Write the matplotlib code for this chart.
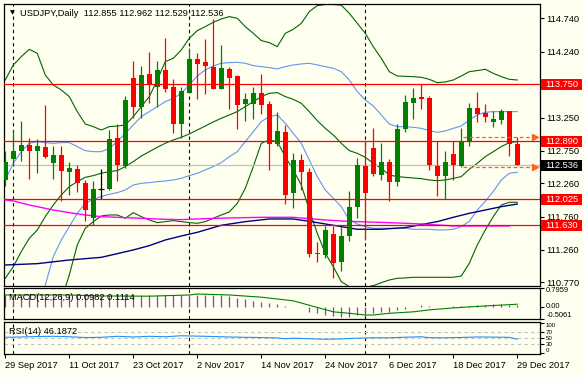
import matplotlib.pyplot as plt
import numpy as np
import pandas as pd

plt.rcParams['font.family'] = ['Liberation Sans', 'DejaVu Sans']
FS = 6.7
BG = '#FFFFF0'

# trading days shown on the chart (no bar for 25 Dec)
dates = [d for d in pd.bdate_range('2017-09-29', '2017-12-29') if d != pd.Timestamp('2017-12-25')]

# OHLC
open_ = [112.315, 112.63, 112.74, 112.84, 112.74, 112.81, 112.565, 112.68, 112.425, 112.48,
         112.27, 111.74, 112.175, 112.18, 112.935, 112.515, 113.845, 113.415, 113.905, 113.715,
         113.965, 113.705, 113.155, 113.625, 114.13, 114.085, 114.01, 113.68, 113.975, 113.875,
         113.45, 113.455, 113.615, 113.455, 112.855, 113.03, 112.115, 112.615, 112.435, 111.215,
         111.19, 111.505, 111.08, 111.465, 111.90, 112.525, 112.795, 112.38, 112.58, 112.275,
         113.075, 113.475, 113.56, 113.54, 112.525, 112.375, 112.705, 112.525, 112.875, 113.40,
         113.315, 113.19, 113.215, 113.35, 112.855]
high = [112.74, 113.065, 113.205, 112.95, 112.925, 113.44, 112.815, 112.815, 112.58, 112.53,
        112.315, 112.30, 112.475, 113.065, 113.155, 113.575, 114.10, 114.025, 114.23, 114.10,
        114.44, 113.825, 113.705, 114.29, 114.225, 114.425, 114.725, 114.34, 114.015, 113.89,
        113.615, 113.705, 113.905, 113.50, 113.33, 113.135, 112.715, 112.705, 112.49, 111.38,
        111.625, 111.625, 111.615, 112.15, 112.64, 112.89, 113.10, 112.865, 112.63, 113.155,
        113.59, 113.695, 113.75, 113.575, 112.89, 112.75, 112.89, 113.09, 113.465, 113.64,
        113.455, 113.35, 113.375, 113.35, 112.962]
low = [112.215, 112.515, 112.59, 112.33, 112.415, 112.64, 112.33, 112.0, 112.09, 112.125,
       111.69, 111.64, 112.03, 112.165, 112.29, 112.49, 113.24, 113.24, 113.475, 113.415,
       113.64, 113.025, 112.94, 113.615, 113.53, 113.605, 113.675, 113.675, 113.38, 113.08,
       113.205, 113.23, 113.305, 112.465, 112.815, 111.95, 111.89, 112.165, 111.155, 111.075,
       111.14, 110.84, 110.94, 111.39, 111.74, 111.415, 112.365, 112.315, 112.0, 112.215,
       113.04, 113.23, 113.375, 112.455, 112.065, 112.025, 112.305, 112.50, 112.825, 113.19,
       113.19, 113.115, 113.15, 112.665, 112.529]
close = [112.575, 112.74, 112.84, 112.74, 112.815, 112.65, 112.69, 112.44, 112.49, 112.265,
         111.865, 112.18, 112.175, 112.925, 112.53, 113.515, 113.415, 113.89, 113.74, 113.965,
         113.675, 113.155, 113.655, 114.13, 114.06, 114.03, 113.68, 113.995, 113.85, 113.44,
         113.53, 113.615, 113.44, 112.855, 113.05, 112.08, 112.615, 112.425, 111.205, 111.195,
         111.565, 111.065, 111.465, 111.905, 112.54, 112.115, 112.40, 112.58, 112.275, 113.075,
         113.48, 113.54, 113.53, 112.53, 112.375, 112.58, 112.53, 112.89, 113.40, 113.305,
         113.255, 113.23, 113.35, 112.855, 112.536]

# Bollinger bands 20, +-2 (green) and +-1 (blue); nan = outside the chart
bb2_up = [113.815, 114.041, 114.166, 114.276, 114.216, 113.890, 113.740, 113.665, 113.565, 113.339,
          113.153, 113.113, 113.063, 113.113, 113.123, 113.138, 113.264, 113.414, 113.565, 113.815,
          114.091, 114.141, 114.266, 114.442, 114.557, 114.617, 114.682, 114.732, 114.768, 114.743,
          114.617, 114.517, 114.407, 114.377, 114.316, 114.517, 114.577, 114.667, 114.843, 114.933,
          114.95, 114.95, 114.94, 114.818, 114.667, 114.517, 114.316, 114.141, 113.940, 113.875,
          113.870, 113.865, 113.855, 113.825, 113.775, 113.785, 113.815, 113.875, 113.940, 113.956,
          113.976, 113.915, 113.865, 113.825, 113.815]
bb_mid = [110.833, 111.008, 111.234, 111.434, 111.559, 111.760, 111.935, 112.086, 112.211, 112.286,
          112.351, 112.377, 112.412, 112.437, 112.452, 112.512, 112.587, 112.672, 112.737, 112.803,
          112.863, 112.913, 112.953, 113.003, 113.063, 113.123, 113.184, 113.239, 113.289, 113.339,
          113.414, 113.489, 113.565, 113.615, 113.625, 113.565, 113.524, 113.464, 113.339, 113.204,
          113.088, 112.988, 112.863, 112.753, 112.712, 112.652, 112.562, 112.487, 112.387, 112.362,
          112.351, 112.341, 112.331, 112.311, 112.301, 112.311, 112.336, 112.362, 112.472, 112.562,
          112.662, 112.737, 112.813, 112.873, 112.888]
bb2_low = [np.nan, np.nan, np.nan, np.nan, np.nan, np.nan, np.nan, 110.5, 110.883, 111.334,
           111.584, 111.685, 111.770, 111.785, 111.785, 111.735, 111.820, 111.760, 111.710, 111.670,
           111.685, 111.700, 111.685, 111.670, 111.660, 111.685, 111.735, 111.785, 111.830, 111.960,
           112.186, 112.512, 112.863, 112.913, 112.888, 112.662, 112.462, 112.236, 111.860, 111.509,
           111.209, 111.008, 110.783, 110.707, 110.682, 110.697, 110.722, 110.767, 110.807, 110.833,
           110.838, 110.848, 110.848, 110.848, 110.848, 110.848, 110.848, 110.868, 111.058, 111.334,
           111.559, 111.760, 111.935, 111.976, 111.976]
bb1_up = [112.311, 112.562, 112.737, 112.863, 112.888, 112.873, 112.863, 112.873, 112.873, 112.813,
          112.752, 112.737, 112.737, 112.788, 112.888, 113.013, 113.138, 113.264, 113.339, 113.414,
          113.489, 113.539, 113.615, 113.740, 113.875, 113.966, 114.026, 114.066, 114.076, 114.081,
          114.066, 114.031, 114.016, 114.001, 113.981, 114.016, 114.041, 114.056, 114.066, 114.041,
          114.016, 113.991, 113.940, 113.815, 113.640, 113.514, 113.424, 113.289, 113.153, 113.113,
          113.113, 113.103, 113.088, 113.053, 113.028, 113.048, 113.088, 113.123, 113.214, 113.289,
          113.329, 113.339, 113.339, 113.339, 113.339]
bb1_low = [np.nan, np.nan, np.nan, np.nan, 110.4, 110.73, 111.159, 111.409, 111.610, 111.810,
           111.961, 112.021, 112.061, 112.096, 112.121, 112.161, 112.236, 112.261, 112.271, 112.286,
           112.296, 112.311, 112.336, 112.377, 112.412, 112.462, 112.512, 112.572, 112.662, 112.737,
           112.888, 113.038, 113.189, 113.264, 113.289, 113.164, 113.013, 112.863, 112.612, 112.362,
           112.161, 112.036, 111.910, 111.710, 111.650, 111.610, 111.585, 111.585, 111.585, 111.585,
           111.585, 111.570, 111.570, 111.570, 111.560, 111.560, 111.570, 111.610, 111.690, 111.860,
           111.990, 112.140, 112.311, 112.412, 112.427]

# moving averages, read at a few bars
navy_idx = [0, 4, 8, 12, 16, 18, 20, 22, 24, 27, 30, 33, 36, 38, 41, 44, 47, 50, 54, 56, 58, 60, 62, 64]
navy_val = [111.033, 111.053, 111.108, 111.148, 111.259, 111.324, 111.409, 111.469, 111.524, 111.630,
            111.685, 111.725, 111.725, 111.690, 111.630, 111.570, 111.570, 111.595, 111.685, 111.750,
            111.810, 111.860, 111.910, 111.950]
mag_idx = [0, 1, 3, 6, 8, 10, 12, 14, 17, 20, 22, 25, 28, 32, 36, 38, 40, 42, 44, 48, 52, 54, 56, 60, 63]
mag_val = [112.011, 111.996, 111.935, 111.860, 111.820, 111.785, 111.760, 111.750, 111.735, 111.720,
           111.715, 111.730, 111.740, 111.750, 111.750, 111.730, 111.710, 111.695, 111.685, 111.670,
           111.650, 111.635, 111.620, 111.620, 111.620]

# horizontal levels
red_levels = [113.750, 112.890, 112.025, 111.630]
bid = 112.536
arrow_levels = [112.962, 112.505]

# MACD(12,26,9)
macd_hist = [0.48] * 28 + [0.45, 0.35, 0.31, 0.26, 0.21, 0.17, 0.12, 0.04, 0.01, -0.02,
             -0.19, -0.26, -0.33, -0.37, -0.43, -0.43, -0.33, -0.31, -0.26, -0.22,
             -0.19, -0.13, -0.07, -0.01, 0.07, 0.04, 0.01, 0.01, 0.02, 0.02,
             0.04, 0.07, 0.07, 0.10, 0.10, 0.09, 0.0982]
sig_idx = [0, 8, 12, 18, 23, 24, 28, 32, 36, 38, 41, 43, 45, 46, 48, 51, 53, 56, 58, 60, 64]
sig_val = [0.49, 0.49, 0.45, 0.44, 0.49, 0.53, 0.49, 0.40, 0.25, 0.07, -0.20, -0.26, -0.33, -0.33,
           -0.26, -0.20, -0.12, -0.04, 0.0, 0.04, 0.1114]

# RSI(14)
rsi_idx = [0, 2, 4, 6, 8, 10, 12, 14, 16, 18, 20, 22, 24, 26, 28, 30, 32, 34, 35, 36, 38, 40, 42,
           44, 46, 48, 50, 52, 53, 55, 57, 59, 61, 63, 64]
rsi_val = [52.9, 54.0, 55.5, 56.3, 54.8, 52.1, 52.9, 56.3, 54.0, 56.3, 54.8, 58.2, 56.9, 55.5, 54.0,
           52.9, 52.1, 50.6, 48.0, 49.9, 48.0, 46.2, 47.6, 49.9, 51.3, 51.3, 53.2, 54.7, 51.7, 51.3,
           52.4, 54.0, 53.6, 52.8, 46.19]

n = len(close)
x = np.arange(n)

W, H = 584, 377
fig = plt.figure(figsize=(W / 100, H / 100), dpi=100, facecolor=BG)


def px_axes(top, bottom):
    return fig.add_axes([4 / W, 1 - bottom / H, 536 / W, (bottom - top) / H], facecolor=BG)


ax = px_axes(4, 285.5)
ax_m = px_axes(287.5, 319.3)
ax_r = px_axes(322.3, 354)

xlim = (-0.16, 66.84)
for a in (ax, ax_m, ax_r):
    a.set_xlim(*xlim)
    a.yaxis.tick_right()
    a.tick_params(axis='y', direction='out', length=3, width=0.8, pad=1.5, labelsize=FS)
    a.tick_params(axis='x', bottom=False, labelbottom=False)
    for s in a.spines.values():
        s.set_linewidth(0.9)
    # month separators
    for i in range(1, n):
        if dates[i].month != dates[i - 1].month:
            a.axvline(i, color='black', lw=0.8, ls=(0, (3, 3)), zorder=1)

# ---- main chart
ax.set_ylim(110.7245, 114.9575)
ax.set_yticks([114.74, 114.24, 113.25, 112.75, 112.26, 111.76, 111.26, 110.77])
ax.set_yticklabels(['%.3f' % v for v in [114.74, 114.24, 113.25, 112.75, 112.26, 111.76, 111.26, 110.77]])

green = '#008000'
ax.plot(x, bb2_up, color='#006400', lw=0.8, zorder=2)
ax.plot(x, bb_mid, color='#006400', lw=0.8, zorder=2)
ax.plot(x, bb2_low, color='#006400', lw=0.8, zorder=2)
ax.plot(x, bb1_up, color='#6495ED', lw=0.8, zorder=2)
ax.plot(x, bb1_low, color='#6495ED', lw=0.8, zorder=2)
ax.plot(navy_idx, navy_val, color='#000080', lw=1.0, zorder=2)
ax.plot(mag_idx, mag_val, color='#FF00FF', lw=1.0, zorder=2)

o = np.array(open_); c = np.array(close)
cols = np.where(c > o, green, np.where(c < o, '#FF0000', 'black'))
ax.vlines(x, low, high, colors=cols, lw=0.9, zorder=3)
body = np.maximum(np.abs(c - o), 0.004)
ax.bar(x, body, bottom=np.minimum(o, c), width=0.64, color=cols, lw=0, zorder=4)
for i in np.where(c == o)[0]:
    ax.hlines(c[i], i - 0.35, i + 0.35, colors='black', lw=0.9, zorder=4)

ax.axhline(bid, color='#C0C0C0', lw=0.9, zorder=2.5)
for lv in red_levels:
    ax.axhline(lv, color='#FF0000', lw=0.9, zorder=5)
for lv in arrow_levels:
    ax.plot([57.2, 66.1], [lv, lv], color='#FF6020', lw=0.9, ls=(0, (3, 2)), zorder=5)
    ax.plot([66.2], [lv], marker='>', ms=4, color='#FF6020', mec='#FF6020', zorder=5, clip_on=False)

ytr = ax.get_yaxis_transform()
box_h = 11 / 66.5
for lv, fc in [(l, '#FF0000') for l in red_levels] + [(bid, 'black')]:
    ax.add_patch(plt.Rectangle((1.002, lv - box_h / 2), 41 / 536, box_h, transform=ytr,
                               fc=fc, ec='none', clip_on=False, zorder=10))
    ax.text(1.0 + 5 / 536, lv, '%.3f' % lv, transform=ytr, ha='left', va='center',
            color='white', fontsize=FS, clip_on=False, zorder=11)

fig.text(12 / W, 1 - 13 / H, '\u25bc', fontsize=4.5, ha='center', va='center', family='DejaVu Sans')
fig.text(20 / W, 1 - 13 / H, 'USDJPY,Daily  112.855 112.962 112.529 112.536', fontsize=FS,
         ha='left', va='center')

# ---- MACD
ax_m.set_ylim(-0.5061, 0.7959)
ax_m.vlines(x, 0, macd_hist, colors='#9932CC', lw=0.9, zorder=2)
ax_m.plot(sig_idx, sig_val, color='#008000', lw=0.8, zorder=3)
ax_m.set_yticks([0.7959, 0.0, -0.5061])
ax_m.set_yticklabels(['0.7959', '0.00', '-0.5061'])
ax_m.tick_params(axis='y', labelsize=5.4)
for lab, va in zip(ax_m.get_yticklabels(), ['top', 'center', 'bottom']):
    lab.set_va(va)
fig.text(9 / W, 1 - 297 / H, 'MACD(12,26,9) 0.0982 0.1114', fontsize=FS, ha='left', va='center')

# ---- RSI
ax_r.set_ylim(-4, 104)
for lv in (30, 50, 70):
    ax_r.axhline(lv, color='#C0C0C0', lw=0.8, ls=(0, (3, 3)), zorder=1)
ax_r.plot(rsi_idx, rsi_val, color='#1E90FF', lw=0.8, zorder=3)
ax_r.set_yticks([100, 70, 50, 30, 0])
ax_r.set_yticklabels(['100', '70', '50', '30', '0'])
ax_r.tick_params(axis='y', labelsize=4.4, pad=1)
for lab, va in zip(ax_r.get_yticklabels(), ['top', 'center', 'center', 'center', 'bottom']):
    lab.set_va(va)
fig.text(9 / W, 1 - 332 / H, 'RSI(14) 46.1872', fontsize=FS, ha='left', va='center')

tick_pos = list(range(0, n, 8))
ax_r.set_xticks(tick_pos)
ax_r.set_xticklabels([dates[i].strftime('%-d %b %Y') for i in tick_pos], ha='left')
ax_r.tick_params(axis='x', bottom=True, labelbottom=True, direction='out', length=3,
                 width=0.8, pad=2, labelsize=FS)

fig.savefig('out.png', dpi=100, facecolor=BG)
